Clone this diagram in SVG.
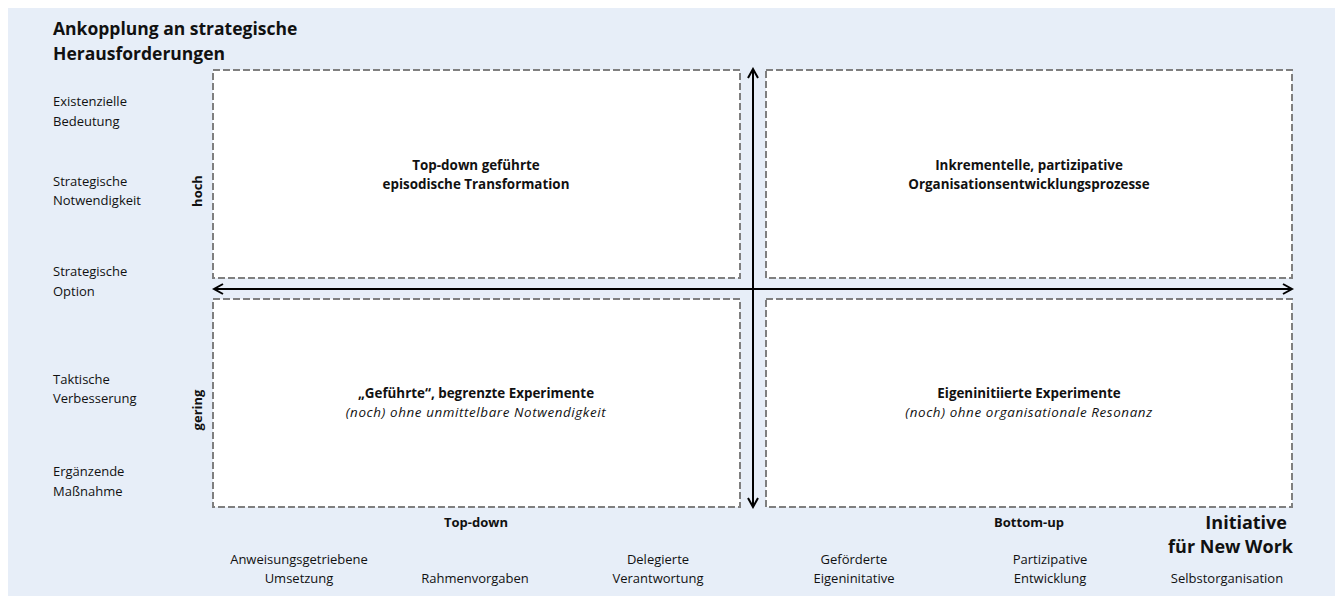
<svg xmlns="http://www.w3.org/2000/svg" width="1338" height="597" viewBox="0 0 1338 597">
<defs>
<style>
text{font-family:"Open Sans","Liberation Sans",sans-serif;fill:#111;}
.lbl{font-size:13px;}
.c{text-anchor:middle;}
.b{font-weight:bold;}
.i{font-style:italic;letter-spacing:0.6px;}
.q{font-size:13.4px;}
.box{fill:#fff;stroke:#7f7f7f;stroke-width:2;stroke-dasharray:7 3;}
.ax{stroke:#000;stroke-width:2;fill:none;}
</style>
<marker id="ah" viewBox="0 0 12 12" refX="10" refY="6" markerWidth="12" markerHeight="12" markerUnits="userSpaceOnUse" orient="auto-start-reverse">
<path d="M1,1 L10,6 L1,11" fill="none" stroke="#000" stroke-width="2"/>
</marker>
</defs>
<rect x="8" y="8" width="1327" height="588" fill="#E7EEF8"/>
<g id="title">
<text class="b" x="53" y="35" font-size="17.5">Ankopplung an strategische</text>
<text class="b" x="53" y="60" font-size="17.5">Herausforderungen</text>
</g>
<g id="ylabels">
<text class="lbl" x="53" y="106">Existenzielle</text>
<text class="lbl" x="53" y="126">Bedeutung</text>
<text class="lbl" x="53" y="186">Strategische</text>
<text class="lbl" x="53" y="205">Notwendigkeit</text>
<text class="lbl" x="53" y="276">Strategische</text>
<text class="lbl" x="53" y="296">Option</text>
<text class="lbl" x="53" y="384">Taktische</text>
<text class="lbl" x="53" y="403">Verbesserung</text>
<text class="lbl" x="53" y="476">Ergänzende</text>
<text class="lbl" x="53" y="496">Maßnahme</text>
</g>
<g id="hoch"><text class="b c lbl" transform="translate(202,191) rotate(-90)">hoch</text></g>
<g id="gering"><text class="b c lbl" transform="translate(202,410) rotate(-90)">gering</text></g>
<g id="q1">
<rect class="box" x="213" y="70" width="527" height="208"/>
<text class="b c q" x="476" y="170">Top-down geführte</text>
<text class="b c q" x="476" y="189">episodische Transformation</text>
</g>
<g id="q2">
<rect class="box" x="766" y="70" width="526" height="208"/>
<text class="b c q" x="1029" y="170">Inkrementelle, partizipative</text>
<text class="b c q" x="1029" y="189">Organisationsentwicklungsprozesse</text>
</g>
<g id="q3">
<rect class="box" x="213" y="299" width="527" height="208"/>
<text class="b c q" x="476" y="398">„Geführte“, begrenzte Experimente</text>
<text class="i c q" x="476" y="417">(noch) ohne unmittelbare Notwendigkeit</text>
</g>
<g id="q4">
<rect class="box" x="766" y="299" width="526" height="208"/>
<text class="b c q" x="1029" y="398">Eigeninitiierte Experimente</text>
<text class="i c q" x="1029" y="417">(noch) ohne organisationale Resonanz</text>
</g>
<g id="connectors">
<line class="ax" x1="753" y1="507" x2="753" y2="69" marker-end="url(#ah)" marker-start="url(#ah)"/>
<line class="ax" x1="214" y1="289" x2="1292" y2="289" marker-end="url(#ah)" marker-start="url(#ah)"/>
</g>
<g id="xlabels">
<text class="b c lbl" x="476" y="527">Top-down</text>
<text class="b c lbl" x="1029" y="527">Bottom-up</text>
<text class="b" x="1287" y="529" font-size="18" text-anchor="end">Initiative</text>
<text class="b" x="1293" y="553" font-size="18" text-anchor="end">für New Work</text>
<text class="c lbl" x="299" y="564">Anweisungsgetriebene</text>
<text class="c lbl" x="299" y="583">Umsetzung</text>
<text class="c lbl" x="475" y="583">Rahmenvorgaben</text>
<text class="c lbl" x="658" y="564">Delegierte</text>
<text class="c lbl" x="658" y="583">Verantwortung</text>
<text class="c lbl" x="854" y="564">Geförderte</text>
<text class="c lbl" x="854" y="583">Eigeninitative</text>
<text class="c lbl" x="1050" y="564">Partizipative</text>
<text class="c lbl" x="1050" y="583">Entwicklung</text>
<text class="c lbl" x="1227" y="583">Selbstorganisation</text>
</g>
</svg>
